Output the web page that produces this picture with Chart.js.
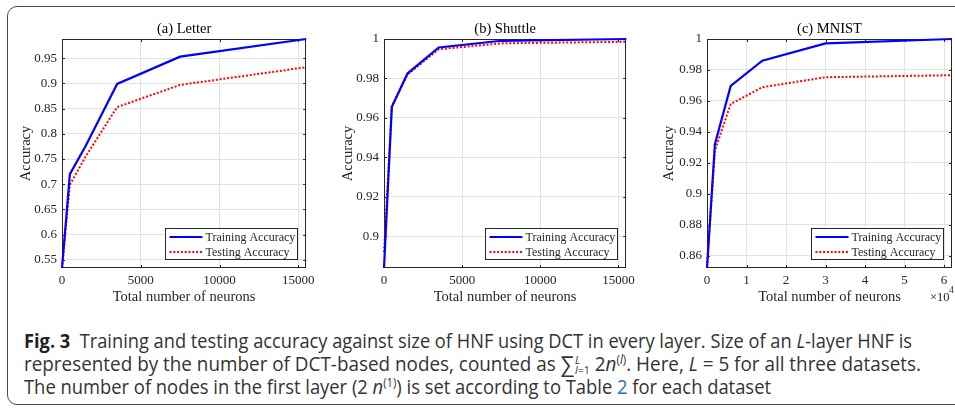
<!DOCTYPE html>
<html>
<head>
<meta charset="utf-8">
<script src="https://cdn.jsdelivr.net/npm/chart.js@4.4.1/dist/chart.umd.min.js"></script>
<style>
  html, body { margin: 0; padding: 0; background: #fff; }
  body { width: 955px; height: 410px; position: relative; overflow: hidden; }
  .frame { position: absolute; left: 7px; top: 6px; width: 970px; height: 397px;
           border: 1px solid #4a4a4a; border-radius: 10px; }
  .panel { position: absolute; top: 0; height: 310px; }
  .cap { position: absolute; left: 24px; white-space: nowrap; transform-origin: 0 0;
         font-family: "Open Sans", "Noto Sans", sans-serif;
         font-size: 19.5px; line-height: 19px; color: #333; }
  .cap b { color: #222; }
  .cap i { font-style: italic; }
  .sum { font-size: 22px; vertical-align: -1px; }
  .lim { display: inline-block; vertical-align: -3px; font-size: 11px; line-height: 10px; margin-left: 1px; }
  .lim span { display: block; }
  .link { color: #2a6ebb; }
  sup { font-size: 12px; line-height: 0; }
</style>
</head>
<body>
<div class="frame"></div>
<div class="panel" style="left:0;width:320px"><canvas id="c1"></canvas></div>
<div class="panel" style="left:320px;width:320px"><canvas id="c2"></canvas></div>
<div class="panel" style="left:640px;width:315px"><canvas id="c3"></canvas></div>

<div class="cap" id="l1" data-w="888" style="top:331px"><b>Fig. 3</b>&nbsp; Training and testing accuracy against size of HNF using DCT in every layer. Size of an <i>L</i>-layer HNF is</div>
<div class="cap" id="l2" data-w="897" style="top:354px">represented by the number of DCT-based nodes, counted as <span class="sum">&sum;</span><span class="lim"><span><i>L</i></span><span><i>l</i>=1</span></span> 2<i>n</i><sup>(<i>l</i>)</sup>. Here, <i>L</i> = 5 for all three datasets.</div>
<div class="cap" id="l3" data-w="747" style="top:377px">The number of nodes in the first layer (2 <i>n</i><sup>(1)</sup>) is set according to Table <span class="link">2</span> for each dataset</div>

<script>
// 图例文字
const seriesNames = ['Training Accuracy', 'Testing Accuracy'];

// (a) Letter
const letterX = [0, 500, 1500, 3500, 7500, 15500];
const letterTrain = [0.534, 0.720, 0.776, 0.899, 0.953, 0.988];
const letterTest = [0.534, 0.699, 0.755, 0.853, 0.897, 0.932];
const letterYTicks = [0.55, 0.6, 0.65, 0.7, 0.75, 0.8, 0.85, 0.9, 0.95];
const letterYLabels = ['0.55', '0.6', '0.65', '0.7', '0.75', '0.8', '0.85', '0.9', '0.95'];

// (b) Shuttle
const shuttleX = [0, 500, 1500, 3500, 7500, 15500];
const shuttleTrain = [0.884, 0.9655, 0.9825, 0.9957, 0.9991, 1.0];
const shuttleTest = [0.892, 0.966, 0.982, 0.9948, 0.9978, 0.9986];
const shuttleYTicks = [0.9, 0.92, 0.94, 0.96, 0.98, 1];
const shuttleYLabels = ['0.9', '0.92', '0.94', '0.96', '0.98', '1'];

// (c) MNIST
const mnistX = [0, 2000, 6000, 14000, 30000, 62000];
const mnistTrain = [0.852, 0.932, 0.9697, 0.986, 0.9972, 1.0];
const mnistTest = [0.853, 0.928, 0.958, 0.9688, 0.9753, 0.9766];
const mnistYTicks = [0.86, 0.88, 0.9, 0.92, 0.94, 0.96, 0.98, 1];
const mnistYLabels = ['0.86', '0.88', '0.9', '0.92', '0.94', '0.96', '0.98', '1'];

// x 轴刻度
const smallXTicks = [0, 5000, 10000, 15000];
const smallXLabels = ['0', '5000', '10000', '15000'];
const mnistXTicks = [0, 10000, 20000, 30000, 40000, 50000, 60000];
const mnistXLabels = ['0', '1', '2', '3', '4', '5', '6'];

const AX = '#262626';
const SERIF = "'Liberation Serif', 'Times New Roman', serif";

// MATLAB 风格的坐标框、刻度、标题和图例
const matlabAxes = {
  id: 'matlabAxes',
  beforeDatasetsDraw(chart) {
    const { ctx, chartArea: a, scales: { x, y } } = chart;
    ctx.save();
    ctx.strokeStyle = AX;
    ctx.lineWidth = 1;
    ctx.beginPath();
    x.ticks.forEach(t => {
      const px = Math.round(x.getPixelForValue(t.value)) + 0.5;
      ctx.moveTo(px, a.bottom); ctx.lineTo(px, a.bottom - 3);
      ctx.moveTo(px, a.top); ctx.lineTo(px, a.top + 3);
    });
    y.ticks.forEach(t => {
      const py = Math.round(y.getPixelForValue(t.value)) + 0.5;
      ctx.moveTo(a.left, py); ctx.lineTo(a.left + 3, py);
      ctx.moveTo(a.right, py); ctx.lineTo(a.right - 3, py);
    });
    ctx.stroke();
    ctx.strokeRect(Math.round(a.left) + 0.5, Math.round(a.top) + 0.5,
                   Math.round(a.width) - 1, Math.round(a.height) - 1);
    ctx.restore();
  },
  afterDraw(chart, args, opts) {
    const { ctx, chartArea: a } = chart;
    ctx.save();
    // 标题
    ctx.fillStyle = '#000';
    ctx.font = '14.5px ' + SERIF;
    ctx.textAlign = 'center';
    ctx.textBaseline = 'middle';
    ctx.fillText(opts.title, (a.left + a.right) / 2, a.top - 10);

    // ×10^4
    if (opts.exponent) {
      ctx.fillStyle = AX;
      ctx.textAlign = 'left';
      ctx.textBaseline = 'alphabetic';
      ctx.font = '12.5px ' + SERIF;
      ctx.fillText('\u00d710', a.right - 22, 301);
      ctx.font = '9.5px ' + SERIF;
      ctx.fillText(opts.exponent, a.right - 3, 293);
    }

    // 图例
    const bx = Math.round(a.right - 141) + 0.5, by = Math.round(a.bottom - 40) + 0.5;
    const bw = 132, bh = 31;
    ctx.fillStyle = '#fff';
    ctx.fillRect(bx, by, bw, bh);
    ctx.strokeStyle = AX;
    ctx.lineWidth = 1;
    ctx.strokeRect(bx, by, bw, bh);
    ctx.font = '12px ' + SERIF;
    ctx.textAlign = 'left';
    ctx.textBaseline = 'middle';
    chart.data.datasets.forEach((ds, i) => {
      const ly = by + 8.5 + i * 15;
      ctx.strokeStyle = ds.borderColor;
      ctx.lineWidth = ds.borderWidth;
      ctx.setLineDash(ds.borderDash || []);
      ctx.beginPath();
      ctx.moveTo(bx + 4, ly);
      ctx.lineTo(bx + 37, ly);
      ctx.stroke();
      ctx.setLineDash([]);
      ctx.fillStyle = AX;
      ctx.fillText(ds.label, bx + 40, ly + 0.5);
    });
    ctx.restore();
  }
};

function makePanel(id, p) {
  const ctx = document.getElementById(id);
  const pts = ys => p.x.map((v, i) => ({ x: v, y: ys[i] }));
  return new Chart(ctx, {
    type: 'scatter',
    data: {
      datasets: [
        { label: seriesNames[0], data: pts(p.train), showLine: true, borderColor: '#0000ff',
          borderWidth: 2.2, pointRadius: 0, tension: 0, clip: false },
        { label: seriesNames[1], data: pts(p.test), showLine: true, borderColor: '#ff0000',
          borderWidth: 2, borderDash: [2, 1.8], pointRadius: 0, tension: 0, clip: false }
      ]
    },
    plugins: [matlabAxes],
    options: {
      responsive: true,
      maintainAspectRatio: false,
      animation: false,
      layout: { padding: { left: 0, top: 39, right: p.padRight, bottom: 0 } },
      plugins: {
        legend: { display: false },
        tooltip: { enabled: false },
        matlabAxes: { title: p.title, exponent: p.exponent }
      },
      scales: {
        x: {
          type: 'linear', min: p.xMin, max: p.xMax,
          afterBuildTicks: s => { s.ticks = p.xTicks.map(v => ({ value: v })); },
          afterFit: s => { s.height = 42; },
          ticks: { callback: (v, i) => p.xLabels[i], color: AX, padding: 5, maxRotation: 0,
                   autoSkip: false, font: { family: SERIF, size: 13 } },
          grid: { color: '#e2e2e2', lineWidth: 1, drawTicks: false },
          border: { display: false },
          title: { display: true, text: 'Total number of neurons', color: AX,
                   font: { family: SERIF, size: 14.5 }, padding: { top: 0, bottom: 4.3 } }
        },
        y: {
          type: 'linear', min: p.yMin, max: p.yMax,
          afterBuildTicks: s => { s.ticks = p.yTicks.map(v => ({ value: v })); },
          afterFit: s => { s.width = p.yWidth; },
          ticks: { callback: (v, i) => p.yLabels[i], color: AX, padding: 5,
                   autoSkip: false, font: { family: SERIF, size: 13 } },
          grid: { color: '#e2e2e2', lineWidth: 1, drawTicks: false },
          border: { display: false },
          title: { display: true, text: 'Accuracy', color: AX,
                   font: { family: SERIF, size: 14.5 }, padding: { top: p.yTitlePad, bottom: 0 } }
        }
      }
    }
  });
}

makePanel('c1', {
  title: '(a) Letter', x: letterX, train: letterTrain, test: letterTest,
  xMin: 0, xMax: 15500, yMin: 0.534, yMax: 0.988,
  xTicks: smallXTicks, xLabels: smallXLabels, yTicks: letterYTicks, yLabels: letterYLabels,
  yWidth: 62, padRight: 13, yTitlePad: 17.3
});
makePanel('c2', {
  title: '(b) Shuttle', x: shuttleX, train: shuttleTrain, test: shuttleTest,
  xMin: 0, xMax: 15500, yMin: 0.884, yMax: 1.0,
  xTicks: smallXTicks, xLabels: smallXLabels, yTicks: shuttleYTicks, yLabels: shuttleYLabels,
  yWidth: 64, padRight: 10, yTitlePad: 19.3
});
makePanel('c3', {
  title: '(c) MNIST', x: mnistX, train: mnistTrain, test: mnistTest,
  xMin: 0, xMax: 62000, yMin: 0.852, yMax: 1.0,
  xTicks: mnistXTicks, xLabels: mnistXLabels, yTicks: mnistYTicks, yLabels: mnistYLabels,
  yWidth: 67, padRight: 3, yTitlePad: 20.3, exponent: '4'
});

// 图注每行拉伸到原图宽度
document.querySelectorAll('.cap').forEach(el => {
  const w = el.getBoundingClientRect().width;
  el.style.transform = 'scaleX(' + (parseFloat(el.dataset.w) / w) + ')';
});
</script>
</body>
</html>
